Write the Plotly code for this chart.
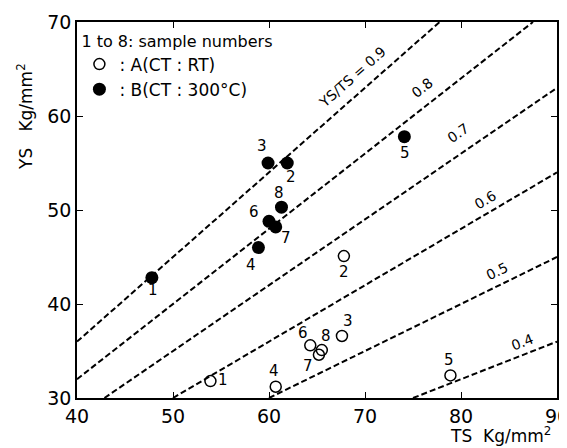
import math
import plotly.graph_objects as go

# ---- data ----
ratios = [0.9, 0.8, 0.7, 0.6, 0.5, 0.4]
ratio_labels = ["YS/TS = 0.9", "0.8", "0.7", "0.6", "0.5", "0.4"]
ratio_label_ts = [68.7, 75.9, 79.7, 82.5, 83.8, 86.4]
ratio_label_ys = [64.1, 63.0, 58.2, 51.1, 43.5, 36.0]

samples = ["1", "2", "3", "4", "5", "6", "7", "8"]
a_ts = [53.9, 67.8, 67.6, 60.7, 78.9, 64.3, 65.2, 65.5]
a_ys = [31.8, 45.1, 36.6, 31.2, 32.4, 35.6, 34.6, 35.1]
b_ts = [47.8, 61.9, 59.9, 58.9, 74.1, 60.0, 60.7, 61.3]
b_ys = [42.8, 55.0, 55.0, 46.0, 57.8, 48.8, 48.2, 50.3]

x_ticks = [40, 50, 60, 70, 80, 90]
y_ticks = [30, 40, 50, 60, 70]
x_range = [40, 90]
y_range = [30, 70]

# label offsets in pixels (style)
a_shift = [(13, 1), (0, -16), (6, 15), (-2, 16), (-1, 15), (-7, 12), (-11, -11), (4, 14)]
b_shift = [(1, -12), (4, -14), (-6, 17), (-7, -17), (1, -16), (-15, 9), (10, -11), (-2, 14)]

FONT = "DejaVu Sans"
# page body adds an 8px margin at left/top
W, H = 559, 440
ML, MR, MT, MB = 69, 10, 14, 50
fig = go.Figure()

for r in ratios:
    x0 = max(x_range[0], y_range[0] / r)
    x1 = min(x_range[1], y_range[1] / r)
    fig.add_trace(go.Scatter(
        x=[x0, x1], y=[r * x0, r * x1], mode="lines",
        line=dict(color="black", width=2, dash="6px,3px"),
        showlegend=False, hoverinfo="skip"))

fig.add_trace(go.Scatter(
    x=a_ts, y=a_ys, mode="markers", name=": A(CT : RT)",
    marker=dict(symbol="circle-open", size=11, color="black", line=dict(width=1.5))))
fig.add_trace(go.Scatter(
    x=b_ts, y=b_ys, mode="markers", name=": B(CT : 300°C)",
    marker=dict(symbol="circle", size=13, color="black")))

plot_w = W - ML - MR
plot_h = H - MT - MB
px_per_x = plot_w / (x_range[1] - x_range[0])
px_per_y = plot_h / (y_range[1] - y_range[0])
for r, lab, lx, ly in zip(ratios, ratio_labels, ratio_label_ts, ratio_label_ys):
    ang = math.degrees(math.atan(r * px_per_y / px_per_x))
    fig.add_annotation(x=lx, y=ly, text=lab, showarrow=False, textangle=-ang,
                       font=dict(family=FONT, size=14, color="black"))

for s, x, y, (dx, dy) in zip(samples, a_ts, a_ys, a_shift):
    fig.add_annotation(x=x, y=y, text=s, showarrow=False, xshift=dx, yshift=dy,
                       font=dict(family=FONT, size=15, color="black"))
for s, x, y, (dx, dy) in zip(samples, b_ts, b_ys, b_shift):
    fig.add_annotation(x=x, y=y, text=s, showarrow=False, xshift=dx, yshift=dy,
                       font=dict(family=FONT, size=15, color="black"))

fig.add_annotation(x=1.0, y=-37 / plot_h, xref="paper", yref="paper", xanchor="right", yanchor="middle",
                   text="TS  Kg/mm<sup>2</sup>", showarrow=False, xshift=-4,
                   font=dict(family=FONT, size=17, color="black"))
fig.add_annotation(x=-52 / plot_w, y=(plot_h - 95) / plot_h, xref="paper", yref="paper",
                   xanchor="center", yanchor="middle", textangle=-90,
                   text="YS   Kg/mm<sup>2</sup>", showarrow=False,
                   font=dict(family=FONT, size=17, color="black"))

axis_common = dict(showgrid=False, zeroline=False, showline=True, linecolor="black",
                   linewidth=1.5, mirror="ticks", ticks="inside", ticklen=6,
                   tickcolor="black", tickwidth=1.2, automargin=False,
                   ticklabeloverflow="allow",
                   tickfont=dict(family=FONT, size=19, color="black"))
fig.update_xaxes(range=x_range, tickvals=x_ticks, **axis_common)
fig.update_yaxes(range=y_range, tickvals=y_ticks, **axis_common)

fig.update_layout(
    width=W, height=H,
    margin=dict(l=ML, r=MR, t=MT, b=MB, autoexpand=False),
    plot_bgcolor="white", paper_bgcolor="white",
    legend=dict(x=0.005, y=0.99, xanchor="left", yanchor="top",
                bgcolor="rgba(0,0,0,0)",
                title=dict(text="1 to 8: sample numbers", font=dict(family=FONT, size=16, color="black")),
                font=dict(family=FONT, size=17, color="black"),
                itemwidth=30, tracegroupgap=0),
)

fig.write_html("out.html")
